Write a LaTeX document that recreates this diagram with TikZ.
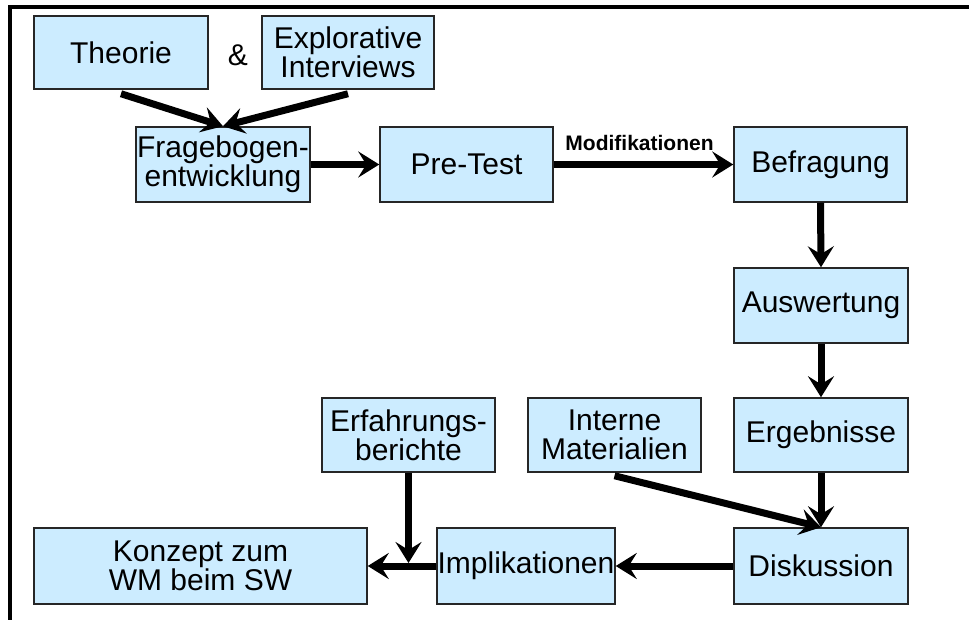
\documentclass[tikz,border=0pt]{standalone}
\usepackage{fontspec}
\setmainfont{Liberation Sans}
\usetikzlibrary{arrows.meta}
\definecolor{boxfill}{HTML}{CCECFF}
\begin{document}
\begin{tikzpicture}[x=1pt,y=-1pt,
  box/.style={draw=black!85, line width=1.5pt, fill=boxfill, rectangle,
    inner sep=0pt, align=center, anchor=center,
    font=\fontsize{30}{29}\selectfont},
  arr/.style={line width=7pt, -{Stealth[length=21pt,width=26pt,inset=8pt]}}]
\useasboundingbox (0,0) rectangle (969,620);
% outer frame: top and left edges only
\draw[line width=4pt] (969,7.5) -- (10,7.5) -- (10,620);

% boxes
\node[box, minimum width=174pt, minimum height=73pt] (theorie) at (121,52.5) {Theorie};
\node[font=\fontsize{30}{29}\selectfont] (amp) at (238,55) {\&};
\node[box, minimum width=172pt, minimum height=73pt] (explo) at (348,52.5) {Explorative\\Interviews};
\node[box, minimum width=174pt, minimum height=75pt] (frag) at (223,164.5) {Fragebogen-\\entwicklung};
\node[box, minimum width=173pt, minimum height=75pt] (pretest) at (466.5,164.5) {Pre-Test};
\node[box, minimum width=173pt, minimum height=75pt] (befr) at (820.5,164.5) {Befragung};
\node[box, minimum width=174pt, minimum height=75pt] (ausw) at (821,305.5) {Auswertung};
\node[box, minimum width=174pt, minimum height=74pt] (ergeb) at (821,435) {Ergebnisse};
\node[box, minimum width=173pt, minimum height=74pt] (interne) at (614.5,435) {Interne\\Materialien};
\node[box, minimum width=173pt, minimum height=74pt] (erf) at (408.5,435) {Erfahrungs-\\berichte};
\node[box, minimum width=333pt, minimum height=76pt] (konz) at (200.5,566) {Konzept zum\\WM beim SW};
\node[box, minimum width=178pt, minimum height=76pt] (impl) at (526,566) {Implikationen};
\node[box, minimum width=174pt, minimum height=76pt] (disk) at (821,566) {Diskussion};

% connectors
\draw[arr] ([yshift=-4pt]theorie.south) -- (frag.north);
\draw[arr] ([yshift=-4pt]explo.south) -- (frag.north);
\draw[arr] (frag.east) -- (pretest.west);
\draw[arr] (pretest.east) -- (befr.west)
  node[midway, anchor=base, yshift=14pt, xshift=-4pt,
       font=\fontsize{21}{21}\selectfont\bfseries] (modlabel) {Modifikationen};
\draw[arr] (befr.south) -- (ausw.north);
\draw[arr] (ausw.south) -- (ergeb.north);
\draw[arr] (ergeb.south) -- (disk.north);
\draw[arr] ([yshift=-3pt]interne.south) -- (disk.north);
\draw[arr] (disk.west) -- (impl.east);
\draw[arr] (impl.west) -- (konz.east);
\coordinate (join) at (erf.south |- impl.west);
\draw[arr] (erf.south) -- ([yshift=3pt]join);
\end{tikzpicture}
\end{document}
